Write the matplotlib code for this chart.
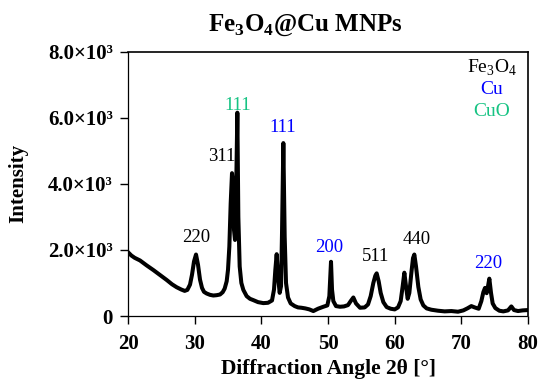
import matplotlib
matplotlib.use('Agg')
import matplotlib.pyplot as plt

plt.rcParams['font.family'] = ['Liberation Serif', 'DejaVu Serif']
plt.rcParams['mathtext.fontset'] = 'custom'
plt.rcParams['mathtext.rm'] = 'Liberation Serif'
plt.rcParams['mathtext.bf'] = 'Liberation Serif:bold'

# XRD pattern (2theta in degrees, intensity in counts)
two_theta = [20.0, 20.5, 21.0, 21.8, 22.8, 23.8, 24.8, 25.8, 26.6, 27.3, 28.0, 28.5, 28.9,
             29.3, 29.6, 29.9, 30.2, 30.5, 30.8, 31.1, 31.4, 31.8, 32.3, 32.8, 33.3, 33.8,
             34.2, 34.5, 34.8, 35.0, 35.2, 35.4, 35.6, 35.75, 35.9, 36.05, 36.2, 36.4, 36.55,
             36.75, 37.0, 37.3, 37.8, 38.3, 38.8, 39.5, 40.3, 41.0, 41.6, 41.9, 42.1, 42.3,
             42.5, 42.75, 42.95, 43.1, 43.3, 43.5, 43.7, 44.0, 44.4, 45.0, 45.5, 46.0, 46.6,
             47.2, 47.8, 48.5, 49.3, 49.9, 50.2, 50.35, 50.45, 50.6, 50.8, 51.2, 51.8, 52.4,
             53.0, 53.4, 53.8, 54.2, 54.8, 55.5, 56.0, 56.4, 56.8, 57.1, 57.3, 57.6, 57.9,
             58.3, 58.8, 59.4, 60.0, 60.5, 60.9, 61.2, 61.45, 61.7, 61.95, 62.2, 62.5, 62.75,
             62.95, 63.2, 63.55, 63.9, 64.3, 64.8, 65.5, 66.5, 67.5, 68.5, 69.5, 70.3, 70.9,
             71.5, 72.0, 72.6, 73.0, 73.3, 73.55, 73.8, 74.0, 74.2, 74.45, 74.7, 75.1, 75.7,
             76.3, 77.0, 77.5, 77.9, 78.5, 79.2, 80.0]
intensity = [1930, 1830, 1760, 1680, 1530, 1390, 1240, 1090, 960, 870, 800, 760, 790,
             950, 1250, 1650, 1860, 1550, 1100, 850, 730, 680, 640, 620, 630, 650,
             720, 830, 1050, 1400, 2100, 3400, 4320, 4000, 2600, 2300, 3500, 6150, 3000,
             1500, 1000, 790, 600, 520, 480, 420, 390, 400, 470, 800, 1400, 1870,
             1200, 700, 900, 2500, 5230, 2400, 1000, 560, 380, 300, 260, 250, 230,
             200, 150, 220, 280, 320, 600, 1200, 1640, 800, 450, 300, 280, 290,
             330, 450, 560, 380, 250, 260, 350, 600, 1000, 1220, 1290, 1050, 700,
             420, 270, 220, 200, 260, 450, 900, 1310, 900, 520, 700, 1300, 1750,
             1860, 1500, 880, 500, 320, 230, 190, 160, 140, 150, 130, 170, 230,
             300, 260, 220, 450, 720, 850, 690, 900, 1130, 700, 380, 240, 160,
             140, 170, 290, 180, 150, 170, 180]

# peak labels (hkl) and their phase
peak_labels = ['220', '311', '111', '111', '200', '511', '440', '220']
peak_phase = ['Fe3O4', 'Fe3O4', 'CuO', 'Cu', 'Cu', 'Fe3O4', 'Fe3O4', 'Cu']
peak_pos = [(30.2, 2360), (34.0, 4810), (36.5, 6380), (43.25, 5690),
            (50.15, 2060), (57.2, 1790), (63.35, 2300), (74.0, 1600)]

phase_names = ['Fe$_3$O$_4$', 'Cu', 'CuO']
phase_colors = {'Fe3O4': 'black', 'Cu': '#0000ff', 'CuO': '#17c383'}
yticks = [0, 2000, 4000, 6000, 8000]
yticklabels = ['0', '2.0\u00d710\u00b3', '4.0\u00d710\u00b3', '6.0\u00d710\u00b3', '8.0\u00d710\u00b3']

fig = plt.figure(figsize=(5.39, 3.79), dpi=100)
ax = fig.add_axes([0.2375, 0.1662, 0.7421, 0.6979])

ax.plot(two_theta, intensity, color='black', lw=2.9, solid_joinstyle='round')

for lab, ph, (px, py) in zip(peak_labels, peak_phase, peak_pos):
    ax.text(px, py, lab, color=phase_colors[ph], fontsize=13.5, ha='center', va='center')

# phase key, top right
for i, (name, key) in enumerate(zip(phase_names, ['Fe3O4', 'Cu', 'CuO'])):
    ax.text(0.91, 0.94 - i * 0.083, name, color=phase_colors[key], fontsize=14,
            ha='center', va='center', transform=ax.transAxes)

ax.set_xlim(20, 80)
ax.set_ylim(0, 8000)
ax.set_xticks([20, 30, 40, 50, 60, 70, 80])
ax.set_yticks(yticks)
ax.set_yticklabels(yticklabels)
ax.tick_params(direction='out', length=6, width=1, labelsize=15)
ax.tick_params(axis='x', pad=7)
ax.tick_params(axis='y', pad=5)
for lbl in ax.get_xticklabels() + ax.get_yticklabels():
    lbl.set_fontweight('bold')

for s in ['left', 'bottom']:
    ax.spines[s].set_linestyle((0, (1, 1)))
    ax.spines[s].set_linewidth(0.9)
for s in ['top', 'right']:
    ax.spines[s].set_linewidth(1.2)

ax.set_xlabel('Diffraction Angle 2\u03b8 [\u00b0]', fontsize=15.5, fontweight='bold')
ax.xaxis.set_label_coords(0.5, -0.2)
ax.xaxis.label.set_va('center')
ax.set_ylabel('Intensity', fontsize=15, fontweight='bold')
ax.yaxis.set_label_coords(-0.275, 0.5)
ax.yaxis.label.set_va('center')

fig.text(305 / 539, 1 - 25 / 379, r'Fe$_\mathbf{3}$O$_\mathbf{4}$@Cu MNPs',
         fontsize=18, fontweight='bold', ha='center', va='center')

fig.savefig('out.png', dpi=100)
